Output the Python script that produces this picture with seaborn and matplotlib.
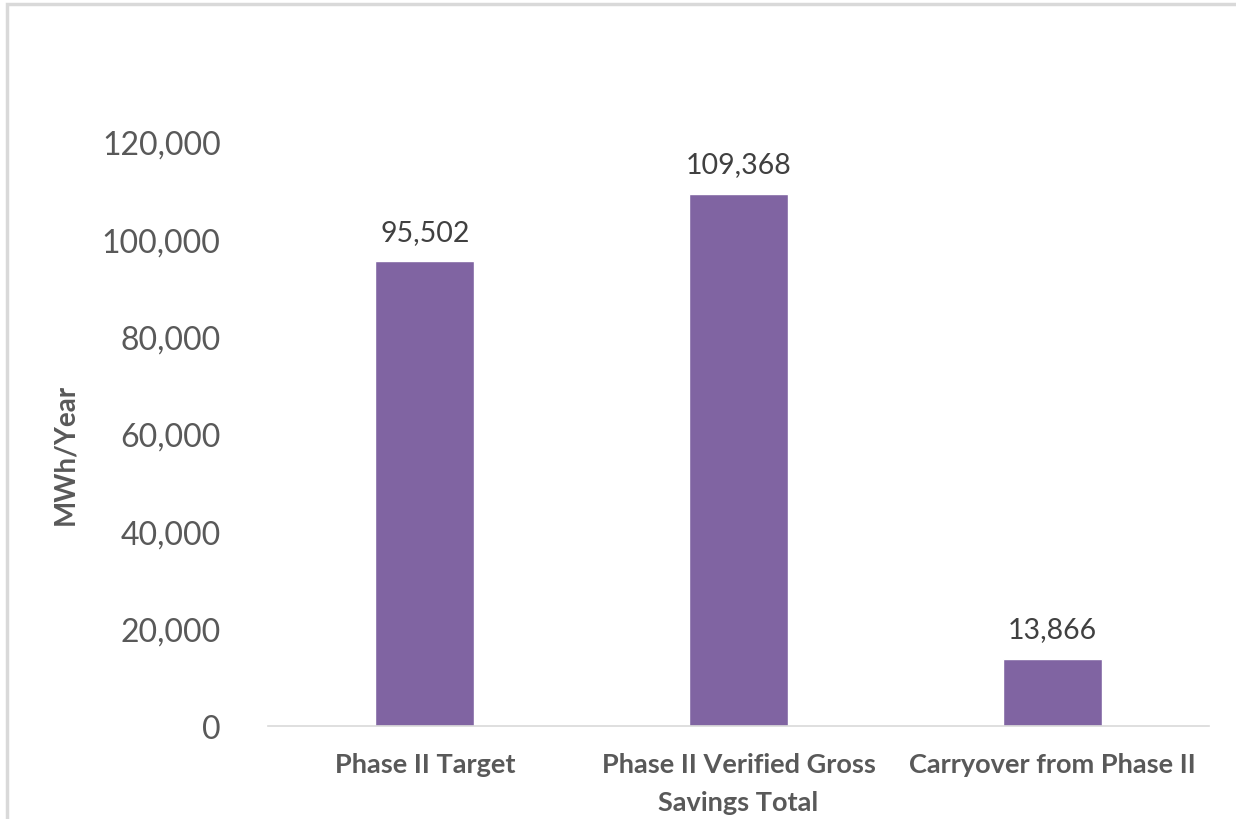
import matplotlib
matplotlib.use('Agg')
import matplotlib.pyplot as plt
import seaborn as sns
import pandas as pd
from matplotlib.ticker import FuncFormatter
from matplotlib.patches import Rectangle

# Chart data
categories = ['Phase II Target', 'Phase II Verified Gross\nSavings Total', 'Carryover from Phase II']
savings = [95502, 109368, 13866]
y_ticks = [0, 20000, 40000, 60000, 80000, 100000, 120000]

df = pd.DataFrame({'category': categories, 'savings': savings})

sns.set_theme(style='white')
plt.rcParams['font.family'] = ['Lato', 'DejaVu Sans']

text_color = '#595959'
bar_color = '#8064A2'

fig = plt.figure(figsize=(12.36, 8.2), dpi=100)
ax = fig.add_axes([0.2168, 0.1134, 0.7614, 0.7122])

sns.barplot(data=df, x='category', y='savings', color=bar_color, saturation=1,
            width=0.316, ax=ax)

ax.set_ylim(0, 120000)
ax.set_yticks(y_ticks)
ax.yaxis.set_major_formatter(FuncFormatter(lambda v, p: f'{int(v):,}'))
ax.tick_params(axis='y', labelsize=23, colors=text_color, length=0, pad=34)
ax.tick_params(axis='x', labelsize=19.5, colors=text_color, length=0, pad=19)
for lbl in ax.get_xticklabels():
    lbl.set_fontweight('bold')
    lbl.set_linespacing(1.7)

ax.set_xlabel('')
ax.set_ylabel('MWh/Year', fontsize=20, fontweight='bold', color=text_color)
ax.yaxis.set_label_coords(-0.202, 0.466)

for s in ['top', 'right', 'left']:
    ax.spines[s].set_visible(False)
ax.spines['bottom'].set_color('#D9D9D9')
ax.spines['bottom'].set_linewidth(1.2)

for container in ax.containers:
    ax.bar_label(container, labels=[f'{v:,}' for v in savings], padding=12,
                 fontsize=20.5, color='#404040')

# outer chart border (left/top visible)
fig.patches.append(Rectangle((0.0057, -0.05), 1.2, 1.044, transform=fig.transFigure,
                             fill=False, edgecolor='#D9D9D9', linewidth=2.5))

fig.savefig('out.png', dpi=100, facecolor='white')
